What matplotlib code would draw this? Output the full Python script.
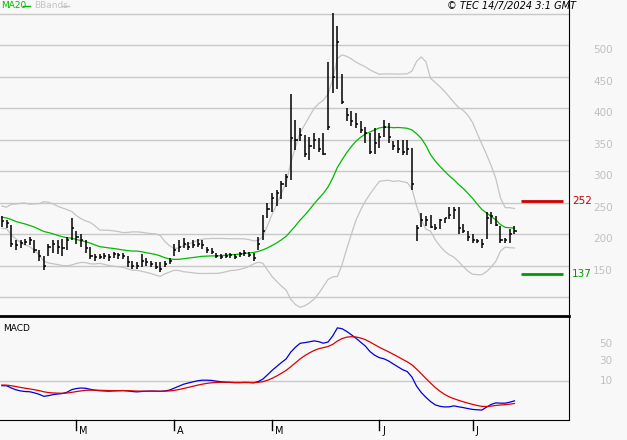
import numpy as np
import matplotlib

matplotlib.use("Agg")
import matplotlib.pyplot as plt

# closes before the visible window (needed for MA20 / bands / MACD warm-up)
prior_close = [240, 235, 245, 230, 225, 238, 228, 232, 220, 215,
               225, 230, 222, 218, 228, 235, 225, 215, 210]

low = [212, 210, 180, 175, 178, 182, 183, 170, 158, 143, 165, 170, 168, 165, 175,
       190, 185, 180, 170, 160, 158, 160, 160, 158, 162, 161, 160, 148, 145, 144,
       148, 150, 148, 145, 140, 148, 152, 165, 172, 178, 175, 178, 180, 176, 170,
       168, 162, 160, 162, 162, 160, 164, 165, 163, 158, 175, 190, 225, 235, 245,
       255, 275, 286, 334, 348, 323, 318, 336, 330, 325, 366, 425, 431, 407, 380,
       372, 369, 361, 345, 328, 328, 337, 355, 345, 334, 329, 326, 326, 270, 189,
       212, 213, 210, 207, 208, 218, 224, 224, 200, 202, 189, 186, 186, 178, 192,
       216, 213, 186, 186, 186, 200]
high = [228, 222, 214, 190, 190, 192, 195, 190, 175, 165, 185, 190, 190, 192, 195,
        225, 205, 200, 190, 180, 168, 168, 170, 168, 172, 170, 170, 165, 158, 155,
        168, 162, 158, 155, 155, 158, 162, 185, 190, 193, 188, 190, 192, 190, 180,
        178, 170, 168, 170, 170, 168, 172, 174, 172, 170, 195, 230, 250, 265, 270,
        285, 295, 423, 382, 368, 358, 355, 360, 352, 360, 474, 552, 530, 455, 400,
        396, 393, 380, 370, 361, 369, 361, 382, 377, 348, 350, 350, 350, 337, 215,
        233, 229, 230, 216, 224, 226, 243, 243, 243, 216, 205, 200, 192, 192, 235,
        235, 229, 213, 194, 208, 213]
close = [220, 218, 185, 183, 186, 188, 190, 175, 165, 150, 180, 185, 180, 178, 190,
         210, 195, 190, 178, 165, 163, 164, 165, 163, 168, 166, 165, 155, 150, 150,
         158, 155, 153, 148, 145, 152, 158, 175, 180, 185, 180, 183, 185, 182, 175,
         172, 165, 163, 165, 166, 164, 168, 170, 167, 162, 185, 205, 240, 258, 265,
         280, 290, 352, 350, 358, 328, 340, 350, 335, 328, 370, 450, 505, 410, 390,
         380, 375, 365, 360, 330, 345, 355, 370, 355, 340, 335, 330, 335, 280, 210,
         222, 222, 212, 210, 222, 225, 230, 238, 210, 205, 195, 190, 189, 185, 225,
         228, 215, 190, 190, 200, 205]

month_idx = [16, 37, 58, 81, 101]
month_lbl = ["M", "A", "M", "J", "J"]
resist, support = 252, 137

BG = "#f8f8f8"
GRID = "#c8c8c8"

full = np.array(prior_close + close, dtype=float)
n0 = len(prior_close)
ma = np.convolve(full, np.ones(20) / 20, mode="valid")
sd = np.array([full[i:i + 20].std() for i in range(len(full) - 19)])
x = np.arange(len(close))
ma, sd = ma[-len(close):], sd[-len(close):]


def ema(a, span):
    k = 2 / (span + 1)
    out = np.empty_like(a)
    out[0] = a[0]
    for i in range(1, len(a)):
        out[i] = a[i] * k + out[i - 1] * (1 - k)
    return out


macd = ema(full, 12) - ema(full, 26)
sig = ema(macd, 9)
macd, sig = macd[n0:], sig[n0:]

fig = plt.figure(figsize=(6.27, 4.40), dpi=100, facecolor=BG)
W, H = 627, 440
ax = fig.add_axes([0, 1 - 314 / H, 569 / W, 314 / H], facecolor=BG)
ax2 = fig.add_axes([0, 1 - 420 / H, 569 / W, 104 / H], facecolor=BG)

xl = (-0.4, 121.7)
ax.set_xlim(*xl)
ax.set_ylim(73, 572)
for g in range(100, 551, 50):
    ax.axhline(g, color=GRID, lw=1, zorder=0)
ax.plot(x, ma + 2 * sd, color="#c4c4c4", lw=0.9)
ax.plot(x, ma - 2 * sd, color="#c4c4c4", lw=0.9)
ax.plot(x, ma, color="#00bb00", lw=0.9)
ax.vlines(x, low, high, color="black", lw=1.1)
ax.hlines(close, x, x + 0.45, color="black", lw=1.1)
ax.hlines(resist, 111.3, 120.5, color="#cc0000", lw=2)
ax.hlines(support, 111.3, 120.5, color="#009900", lw=2)
for s in ["top", "left", "bottom"]:
    ax.spines[s].set_visible(False)
ax.spines["right"].set_color("black")
ax.set_xticks([])
ax.set_yticks([])
for g in range(150, 501, 50):
    ax.text(1.06, g, str(g), transform=ax.get_yaxis_transform(), color="#c0c0c0",
            fontsize=7.5, va="top", ha="center")
ax.text(1.005, resist, str(resist), transform=ax.get_yaxis_transform(), color="#cc0000",
        fontsize=7.5, va="center")
ax.text(1.005, support, str(support), transform=ax.get_yaxis_transform(), color="#009900",
        fontsize=7.5, va="center")

fig.text(1 / W, 1 - 6 / H, "MA20", color="#00bb00", fontsize=6.5, va="center")
fig.add_artist(plt.Line2D([23 / W, 30 / W], [1 - 6 / H] * 2, color="#00bb00", lw=1))
fig.text(34 / W, 1 - 6 / H, "BBands", color="#c4c4c4", fontsize=6.5, va="center")
fig.add_artist(plt.Line2D([62 / W, 69 / W], [1 - 6 / H] * 2, color="#c4c4c4", lw=1))
fig.text(576 / W, 1 - 6 / H, "© TEC 14/7/2024 3:1 GMT", fontsize=7, style="italic",
         ha="right", va="center")

# MACD panel
pk = macd.max()
rng = pk / 0.515
ax2.set_xlim(*xl)
ax2.set_ylim(-0.371 * rng, 0.629 * rng)
ax2.axhline(0, color=GRID, lw=1)
ax2.plot(x, macd, color="#0000dd", lw=0.9)
ax2.plot(x, sig, color="#dd0000", lw=0.9)
ax2.set_yticks([])
ax2.set_xticks([])
ax2.spines["left"].set_visible(False)
ax2.spines["top"].set_linewidth(2)
for s in ["right", "bottom"]:
    ax2.spines[s].set_color("black")
ax2.text(0.005, 0.92, "MACD", transform=ax2.transAxes, fontsize=6.5, va="top")
for v, t in [(0, "10"), (0.2 * rng, "30"), (0.362 * rng, "50")]:
    ax2.text(1.065, v, t, transform=ax2.get_yaxis_transform(), color="#c0c0c0",
             fontsize=7.5, va="center", ha="center")
for i, t in zip(month_idx, month_lbl):
    ax2.plot([i, i], [0, -0.1], transform=ax2.get_xaxis_transform(), color="black",
             lw=1, clip_on=False)
    ax2.text(i + 0.6, -0.06, t, transform=ax2.get_xaxis_transform(), fontsize=7,
             va="top", ha="left")

fig.savefig("out.png", dpi=100, facecolor=BG)
